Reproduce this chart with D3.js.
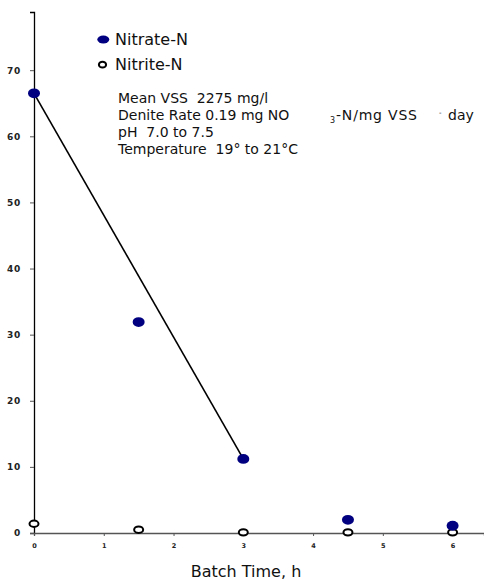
<!DOCTYPE html>
<html>
<head>
<meta charset="utf-8">
<script src="https://cdn.jsdelivr.net/npm/d3@7"></script>
<style>
  body { margin: 0; background: #fff; }
  svg { display: block; font-family: "DejaVu Sans", Verdana, sans-serif; }
  svg text { white-space: pre; }
</style>
</head>
<body>
<svg></svg>
<script>
const size = {w: 484, h: 580};
const margin = {t: 12, r: 0, b: 47, l: 34};

// data
const batchTime = [0, 1.5, 3, 4.5, 6];
const nitrate = [66.5, 31.9, 11.2, 2.0, 1.1];
const nitrite = [1.4, 0.5, 0.1, 0.1, 0.1];
// fitted line over the first three points
const fitTime = [0, 3];
const fitValue = [66.5, 11.2];
const xTicks = [0, 1, 2, 3, 4, 5, 6];
const yTicks = [0, 10, 20, 30, 40, 50, 60, 70];
const notes = ['Mean VSS  2275 mg/l', 'Denite Rate 0.19 mg NO', 'pH  7.0 to 7.5', 'Temperature  19\u00b0 to 21\u00b0C'];

const svg = d3.select('svg').attr('width', size.w).attr('height', size.h);

const x = d3.scaleLinear().domain([0, 6.45]).range([margin.l, size.w - margin.r]);
const y = d3.scaleLinear().domain([0, 78.8]).range([size.h - margin.b, margin.t]);

// y axis
const yAxis = svg.append('g')
    .attr('transform', 'translate(' + x(0) + ',0)')
    .call(d3.axisLeft(y).tickValues(yTicks).tickSize(4).tickPadding(9));
yAxis.select('.domain').attr('stroke', '#000').attr('stroke-width', 1.3);
yAxis.selectAll('.tick line').attr('stroke', '#555');
yAxis.selectAll('.tick text')
    .attr('font-size', 9).attr('font-weight', 'bold').attr('fill', '#222')
    .attr('letter-spacing', 0.8)
    .attr('font-family', '"DejaVu Sans", sans-serif');

// x axis
const xAxis = svg.append('g')
    .attr('transform', 'translate(0,' + y(0) + ')')
    .call(d3.axisBottom(x).tickValues(xTicks).tickFormat(d3.format('d')).tickSize(3).tickPadding(7));
xAxis.select('.domain').attr('stroke', '#555').attr('stroke-width', 1.3);
xAxis.selectAll('.tick line').attr('stroke', '#555');
xAxis.selectAll('.tick text')
    .attr('font-size', 6.5).attr('font-weight', 'bold').attr('fill', '#222')
    .attr('font-family', '"DejaVu Sans", sans-serif');

svg.append('text')
    .attr('x', 246).attr('y', 577)
    .attr('text-anchor', 'middle')
    .attr('font-size', 16).attr('fill', '#111')
    .text('Batch Time, h');

// regression line
svg.append('path')
    .datum(fitTime.map((t, i) => [t, fitValue[i]]))
    .attr('fill', 'none').attr('stroke', '#000').attr('stroke-width', 1.6)
    .attr('d', d3.line().x(d => x(d[0])).y(d => y(d[1])));

// nitrite, hollow
svg.append('g').selectAll('ellipse')
    .data(batchTime.map((t, i) => [t, nitrite[i]]))
    .join('ellipse')
    .attr('cx', d => x(d[0])).attr('cy', d => y(d[1]))
    .attr('rx', 4.5).attr('ry', 3.2)
    .attr('fill', '#fff').attr('stroke', '#000').attr('stroke-width', 2);

// nitrate, filled
svg.append('g').selectAll('ellipse')
    .data(batchTime.map((t, i) => [t, nitrate[i]]))
    .join('ellipse')
    .attr('cx', d => x(d[0])).attr('cy', d => y(d[1]))
    .attr('rx', 6).attr('ry', 4.9)
    .attr('fill', '#000080');

// legend
const legend = svg.append('g');
legend.append('ellipse').attr('cx', 103.3).attr('cy', 39.5).attr('rx', 6).attr('ry', 4)
    .attr('fill', '#000080');
legend.append('text').attr('x', 115).attr('y', 45).attr('font-size', 16).attr('fill', '#111')
    .text('Nitrate-N');
legend.append('ellipse').attr('cx', 102.5).attr('cy', 64.7).attr('rx', 3.6).attr('ry', 2.9)
    .attr('fill', '#fff').attr('stroke', '#000').attr('stroke-width', 2);
legend.append('text').attr('x', 115).attr('y', 70).attr('font-size', 16).attr('fill', '#111')
    .text('Nitrite-N');

// conditions block
const noteG = svg.append('g').attr('font-size', 14).attr('fill', '#111');
noteG.selectAll('text.note')
    .data(notes)
    .join('text')
    .attr('class', 'note')
    .attr('x', 118)
    .attr('y', (d, i) => 103 + i * 17)
    .text(d => d);
noteG.append('text').attr('x', 330).attr('y', 123).attr('font-size', 8).text('3');
noteG.append('text').attr('x', 336).attr('y', 120).attr('textLength', 81).text('-N/mg VSS');
noteG.append('text').attr('x', 439).attr('y', 115).attr('font-size', 7).text('-');
noteG.append('text').attr('x', 448).attr('y', 120).text('day');
</script>
</body>
</html>
